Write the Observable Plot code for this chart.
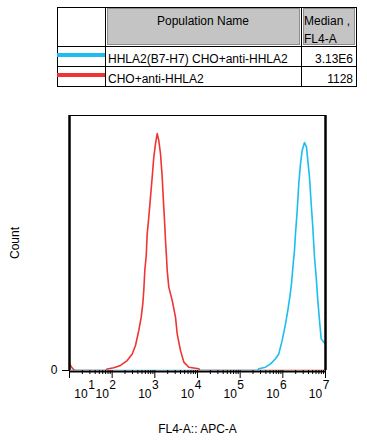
<!DOCTYPE html>
<html>
<head>
<meta charset="utf-8">
<script src="https://cdn.jsdelivr.net/npm/d3@7"></script>
<script src="https://cdn.jsdelivr.net/npm/@observablehq/plot@0.6"></script>
<style>
  html, body { margin: 0; padding: 0; background: #fff; }
  body { width: 367px; height: 446px; overflow: hidden; font-family: "Liberation Sans", Arial, sans-serif; font-size: 12px; color: #000; }
  #legend { position: relative; width: 367px; height: 100px; }
  #chart svg { display: block; }
</style>
</head>
<body>
<div id="legend"></div>
<div id="chart"></div>
<script>
// ---- Legend table data ----
const seriesNames = ["HHLA2(B7-H7) CHO+anti-HHLA2", "CHO+anti-HHLA2"];
const seriesColors = ["#1ebdf0", "#ef3434"];
const seriesMedians = ["3.13E6", "1128"];
const headerPopulation = "Population Name";
const headerMedian = ["Median ,", "FL4-A"];

// ---- Histogram data (FL4-A value, count as % of max) ----
const blueX = [10, 255000, 273500, 393000, 514000, 673000, 804000, 966000, 1155000, 1307000, 1456000, 1596000, 1749000, 1875000, 1981000, 2169000, 2365000, 2592000, 2841000, 3220000, 3587000, 3847000, 4216000, 4621000, 5039000, 5522000, 6053000, 6598000, 7352000, 7930000, 9120000, 10000000];
const blueCount = [0, 0, 0.7, 1.3, 2.6, 4.6, 6.5, 11.8, 18.3, 23.5, 28.8, 34.0, 41.8, 47.1, 53.6, 62.7, 73.2, 81.0, 86.3, 89.4, 87.6, 82.4, 75.8, 65.4, 56.2, 44.4, 36.6, 27.5, 18.3, 12.4, 11.1, 10.5];

const redX = [10, 11.1, 12.6, 14, 70, 77, 109, 157, 225, 295, 352, 421, 479, 522, 551, 582, 628, 662, 722, 791, 867, 946, 1037, 1136, 1238, 1358, 1489, 1571, 1687, 1779, 1877, 1950, 2125, 2552, 3050, 3342, 3996, 4779, 6256, 10720, 11500, 10000000];
const redCount = [2.6, 1.4, 0.3, 0, 0, 0.6, 1.1, 2.0, 3.9, 6.5, 9.8, 15.7, 20.9, 26.1, 31.4, 39.2, 45.0, 53.6, 60.1, 68.0, 75.8, 83.7, 88.9, 92.9, 90.2, 85.0, 75.8, 68.0, 58.8, 51.0, 44.4, 39.2, 32.7, 27.5, 20.9, 14.4, 7.8, 3.3, 1.3, 0.7, 0, 0];

// ---- Axis ticks ----
const decades = [10, 100, 1000, 10000, 100000, 1000000, 10000000];
const decadeExponents = ["1", "2", "3", "4", "5", "6", "7"];
const minorTicks = [];
for (const d of decades.slice(0, -1)) for (let k = 2; k <= 9; k++) minorTicks.push(k * d);
const xLabel = "FL4-A:: APC-A";
const yLabel = "Count";

// ---- Build legend table ----
const L = document.getElementById("legend");
function box(l, t, w, h, style, text) {
  const d = document.createElement("div");
  d.style.cssText = `position:absolute;left:${l}px;top:${t}px;width:${w}px;height:${h}px;box-sizing:border-box;white-space:nowrap;line-height:14px;${style || ""}`;
  if (text != null) d.textContent = text;
  L.appendChild(d);
  return d;
}
// header gray cells
box(107, 8, 193, 37, "background:#c4c4c4;border:1px solid #8c8c8c");
box(303, 8, 52, 37, "background:#c4c4c4;border:1px solid #8c8c8c");
// grid lines
box(57, 7, 300, 80, "border:1px solid #000");
box(105, 7, 1, 80, "background:#000");
box(301, 7, 1, 80, "background:#000");
box(57, 46, 300, 1, "background:#000");
box(57, 66, 300, 1, "background:#000");
// header texts
box(105, 13.5, 196, 14, "text-align:center", headerPopulation);
box(304, 13.5, 52, 14, "", headerMedian[0]);
box(304, 31.5, 52, 14, "", headerMedian[1]);
// rows
const rowTops = [46, 66];
seriesNames.forEach((name, i) => {
  const top = rowTops[i];
  box(57, top + 7, 48, 4, `background:${seriesColors[i]}`);
  box(108, top + 5.6, 190, 14, "", name);
  box(303, top + 5.6, 50, 14, "text-align:right", seriesMedians[i]);
});

// ---- Chart ----
const blue = blueX.map((x, i) => ({x, c: blueCount[i]}));
const red = redX.map((x, i) => ({x, c: redCount[i]}));

const chart = Plot.plot({
  width: 367,
  height: 346,
  marginTop: 15,
  marginRight: 42,
  marginBottom: 76,
  marginLeft: 69,
  style: {fontFamily: "'Liberation Sans', Arial, sans-serif", fontSize: "12px", color: "#000", background: "#fff"},
  x: {type: "log", domain: [10, 1e7], label: null},
  y: {domain: [0, 100], label: null},
  marks: [
    Plot.ruleY([0], {stroke: "#000", strokeWidth: 2, dy: 1}),
    Plot.line(red, {x: "x", y: "c", stroke: seriesColors[1], strokeWidth: 1.6, clip: true}),
    Plot.line(blue, {x: "x", y: "c", stroke: seriesColors[0], strokeWidth: 1.6, clip: true}),
    Plot.ruleY([100], {stroke: "#000", strokeWidth: 1}),
    Plot.ruleX([10], {stroke: "#000", strokeWidth: 2.5}),
    Plot.ruleX([1e7], {stroke: "#000", strokeWidth: 2.5}),
    Plot.axisX({ticks: minorTicks, tickSize: 4, tickFormat: () => "", label: null, tickPadding: 0}),
    Plot.axisX({ticks: decades, tickSize: 8, tickFormat: () => "", label: null, tickPadding: 0}),
    Plot.text(decades.slice(0, 1), {x: d => d, text: () => "10", frameAnchor: "bottom", lineAnchor: "middle", dy: 24, dx: 11.5, fontSize: 12}),
    Plot.text(decades.slice(0, 1), {x: d => d, text: (d, i) => decadeExponents[i], frameAnchor: "bottom", lineAnchor: "middle", dy: 15, dx: 22, fontSize: 12}),
    Plot.text(decades.slice(1), {x: d => d, text: () => "10", frameAnchor: "bottom", lineAnchor: "middle", dy: 24, dx: -10, fontSize: 12}),
    Plot.text(decades.slice(1), {x: d => d, text: (d, i) => decadeExponents[i + 1], frameAnchor: "bottom", lineAnchor: "middle", dy: 15, dx: 0.5, fontSize: 12}),
    Plot.axisY({ticks: [0], tickSize: 7, tickPadding: 5, label: null, fontSize: 12}),
    Plot.text([yLabel], {text: d => d, frameAnchor: "left", textAnchor: "middle", lineAnchor: "middle", rotate: -90, dx: -54, fontSize: 12}),
    Plot.text([xLabel], {text: d => d, frameAnchor: "bottom", lineAnchor: "middle", dy: 59, fontSize: 12})
  ]
});
document.getElementById("chart").appendChild(chart);
</script>
</body>
</html>
